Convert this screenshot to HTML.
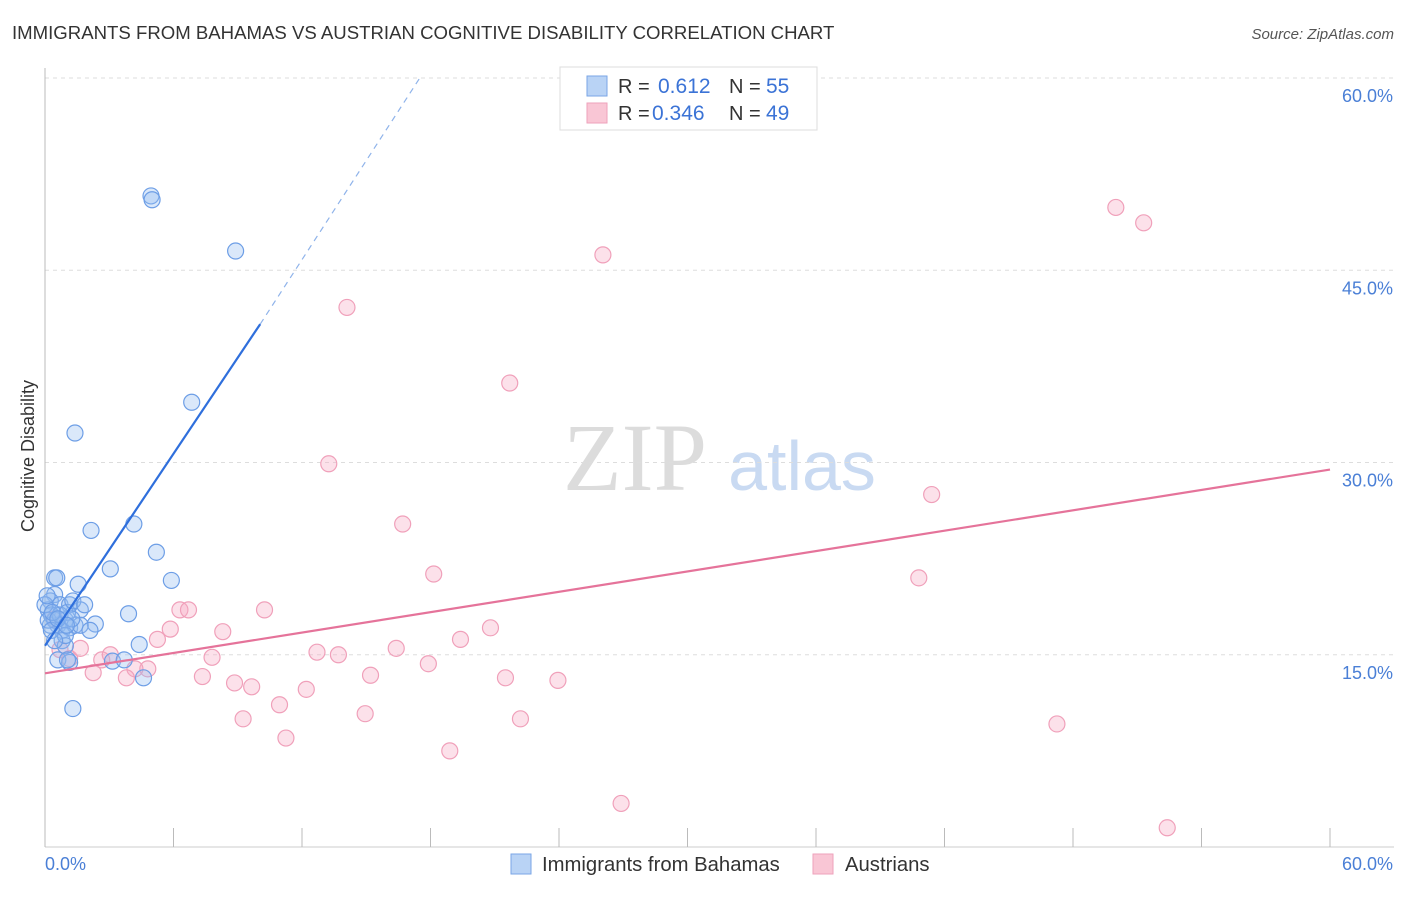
<!DOCTYPE html>
<html><head><meta charset="utf-8"><style>
body{margin:0;background:#fff;font-family:"Liberation Sans",sans-serif;}
svg text{font-family:"Liberation Sans",sans-serif;}
</style></head><body>
<svg id="chart" width="1406" height="892">
<text x="12" y="39" font-size="18.6" fill="#333">IMMIGRANTS FROM BAHAMAS VS AUSTRIAN COGNITIVE DISABILITY CORRELATION CHART</text>
<text x="1394" y="39" font-size="15" fill="#555" font-style="italic" text-anchor="end">Source: ZipAtlas.com</text>
<text x="34" y="456" font-size="18" fill="#333" text-anchor="middle" transform="rotate(-90 34 456)">Cognitive Disability</text>
<g>
<text x="635" y="490" font-size="96" fill="#dcdcdc" font-family="Liberation Serif" text-anchor="middle" style="font-family:'Liberation Serif',serif">ZIP</text>
<text x="802" y="490" font-size="70" fill="#c9daf2" text-anchor="middle">atlas</text>
</g>
<g id="grid"></g><g id="axes"></g><g id="marks"></g>
<g>
<rect x="560" y="67" width="257" height="63" fill="#fff" stroke="#ddd"/>
<rect x="587" y="76" width="20" height="20" fill="#b9d3f5" stroke="#7aa6e6"/>
<rect x="587" y="103" width="20" height="20" fill="#f9c6d5" stroke="#eea2bb"/>
<text x="618" y="93" font-size="20" fill="#333">R = </text><text x="658" y="93" font-size="21" fill="#3b73d6">0.612</text>
<text x="729" y="93" font-size="20" fill="#333">N = </text><text x="766" y="93" font-size="21" fill="#3b73d6">55</text>
<text x="618" y="120" font-size="20" fill="#333">R = </text><text x="652" y="120" font-size="21" fill="#3b73d6">0.346</text>
<text x="729" y="120" font-size="20" fill="#333">N = </text><text x="766" y="120" font-size="21" fill="#3b73d6">49</text>
</g>
<g>
<rect x="511" y="854" width="20" height="20" fill="#b9d3f5" stroke="#7aa6e6"/>
<text x="542" y="871" font-size="20.3" fill="#333">Immigrants from Bahamas</text>
<rect x="813" y="854" width="20" height="20" fill="#f9c6d5" stroke="#eea2bb"/>
<text x="845" y="871" font-size="20.3" fill="#333">Austrians</text>
</g>
</svg>
<script>
const yTicks=[15,30,45,60];
const yTickLabels=["15.0%","30.0%","45.0%","60.0%"];
const xTickLabels=["0.0%","60.0%"];
const blueX=[4.95,5.0,8.9,6.85,1.4,2.15,4.15,5.2,3.05,5.9,0.45,0.55,1.55,3.9,1.65,0.45,0.25,0.7,1.15,0.95,0.15,0.3,0.6,0.8,1.15,1.4,1.65,2.35,0.25,0.45,0.8,0.95,0.6,1.15,1.05,3.15,3.7,4.4,4.6,1.3,0.15,0.3,0.7,0.0,0.1,0.35,1.05,1.3,1.85,0.95,0.45,2.1,0.6,1.25,1.0];
const blueY=[50.8,50.5,46.5,34.7,32.3,24.7,25.2,23.0,21.7,20.8,21.0,21.0,20.5,18.2,18.5,19.7,19.2,18.9,18.9,17.7,18.5,18.1,17.3,16.9,17.1,17.3,17.3,17.4,17.3,17.7,16.1,15.7,14.6,14.4,14.6,14.5,14.6,15.8,13.2,10.8,17.7,16.9,18.1,18.9,19.6,18.3,18.3,19.2,18.9,16.5,16.1,16.9,17.8,17.8,17.3];
const pinkX=[50.0,51.3,26.05,14.1,21.7,13.25,41.4,16.7,18.15,40.8,10.25,6.3,6.7,8.3,5.85,5.25,20.8,19.4,16.4,12.7,13.7,7.8,17.9,2.65,4.8,4.2,2.25,3.8,7.35,15.2,21.5,23.95,8.85,9.65,12.2,10.95,14.95,9.25,22.2,11.25,18.9,47.25,26.9,52.4,1.15,0.7,1.65,0.45,3.05];
const pinkY=[49.9,48.7,46.2,42.1,36.2,29.9,27.5,25.2,21.3,21.0,18.5,18.5,18.5,16.8,17.0,16.2,17.1,16.2,15.5,15.2,15.0,14.8,14.3,14.6,13.9,13.9,13.6,13.2,13.3,13.4,13.2,13.0,12.8,12.5,12.3,11.1,10.4,10.0,10.0,8.5,7.5,9.6,3.4,1.5,14.7,15.4,15.5,17.8,15.0];
const blueTrend=[0,15.7,10.05,40.8,17.5,60];
const pinkTrend=[0,13.55,60,29.45];
const X=v=>45+v*(1285/60), Y=v=>847-v*(769/60);
const NS="http://www.w3.org/2000/svg";
function mk(p,t,a){const e=document.createElementNS(NS,t);for(const k in a)e.setAttribute(k,a[k]);p.appendChild(e);return e;}
const grid=document.getElementById('grid'),axes=document.getElementById('axes'),marks=document.getElementById('marks');
yTicks.forEach((v,i)=>{
 const l=mk(grid,'line',{x1:45,x2:1394,y1:Y(v),y2:Y(v),stroke:'#ddd','stroke-dasharray':'4,4'});
 
 
 const t=mk(axes,'text',{x:1393,y:Y(v)+24,'font-size':18,fill:'#4a7fd6','text-anchor':'end'});t.textContent=yTickLabels[i];
 
 
});
const ax=mk(axes,'line',{x1:45,x2:45,y1:68,y2:847,stroke:'#bbb'});


const bx=mk(axes,'line',{x1:45,x2:1394,y1:847,y2:847,stroke:'#ccc'});


for(let i=0;i<=10;i++){const tk=mk(axes,'line',{x1:X(i*6),x2:X(i*6),y1:828,y2:847,stroke:'#bbb'});
 
 }
const t0=mk(axes,'text',{x:45,y:870,'font-size':18,fill:'#4a7fd6'});t0.textContent=xTickLabels[0];


const t1=mk(axes,'text',{x:1393,y:870,'font-size':18,fill:'#4a7fd6','text-anchor':'end'});t1.textContent=xTickLabels[1];


pinkX.forEach((x,i)=>{const c=mk(marks,'circle',{cx:X(x),cy:Y(pinkY[i]),r:8,fill:'rgba(246,170,195,0.35)',stroke:'#f0a0ba','stroke-width':1.2});
 
 });
blueX.forEach((x,i)=>{const c=mk(marks,'circle',{cx:X(x),cy:Y(blueY[i]),r:8,fill:'rgba(150,190,240,0.35)',stroke:'#6d9ee6','stroke-width':1.2});
 
 });
const bl=mk(marks,'line',{x1:X(blueTrend[0]),y1:Y(blueTrend[1]),x2:X(blueTrend[2]),y2:Y(blueTrend[3]),stroke:'#2f6fdc','stroke-width':2.2});


const bd=mk(marks,'line',{x1:X(blueTrend[2]),y1:Y(blueTrend[3]),x2:X(blueTrend[4]),y2:Y(blueTrend[5]),stroke:'#8fb3ea','stroke-width':1.2,'stroke-dasharray':'6,5'});


const pl=mk(marks,'line',{x1:X(pinkTrend[0]),y1:Y(pinkTrend[1]),x2:X(pinkTrend[2]),y2:Y(pinkTrend[3]),stroke:'#e5739a','stroke-width':2.2});


</script>
</body></html>
